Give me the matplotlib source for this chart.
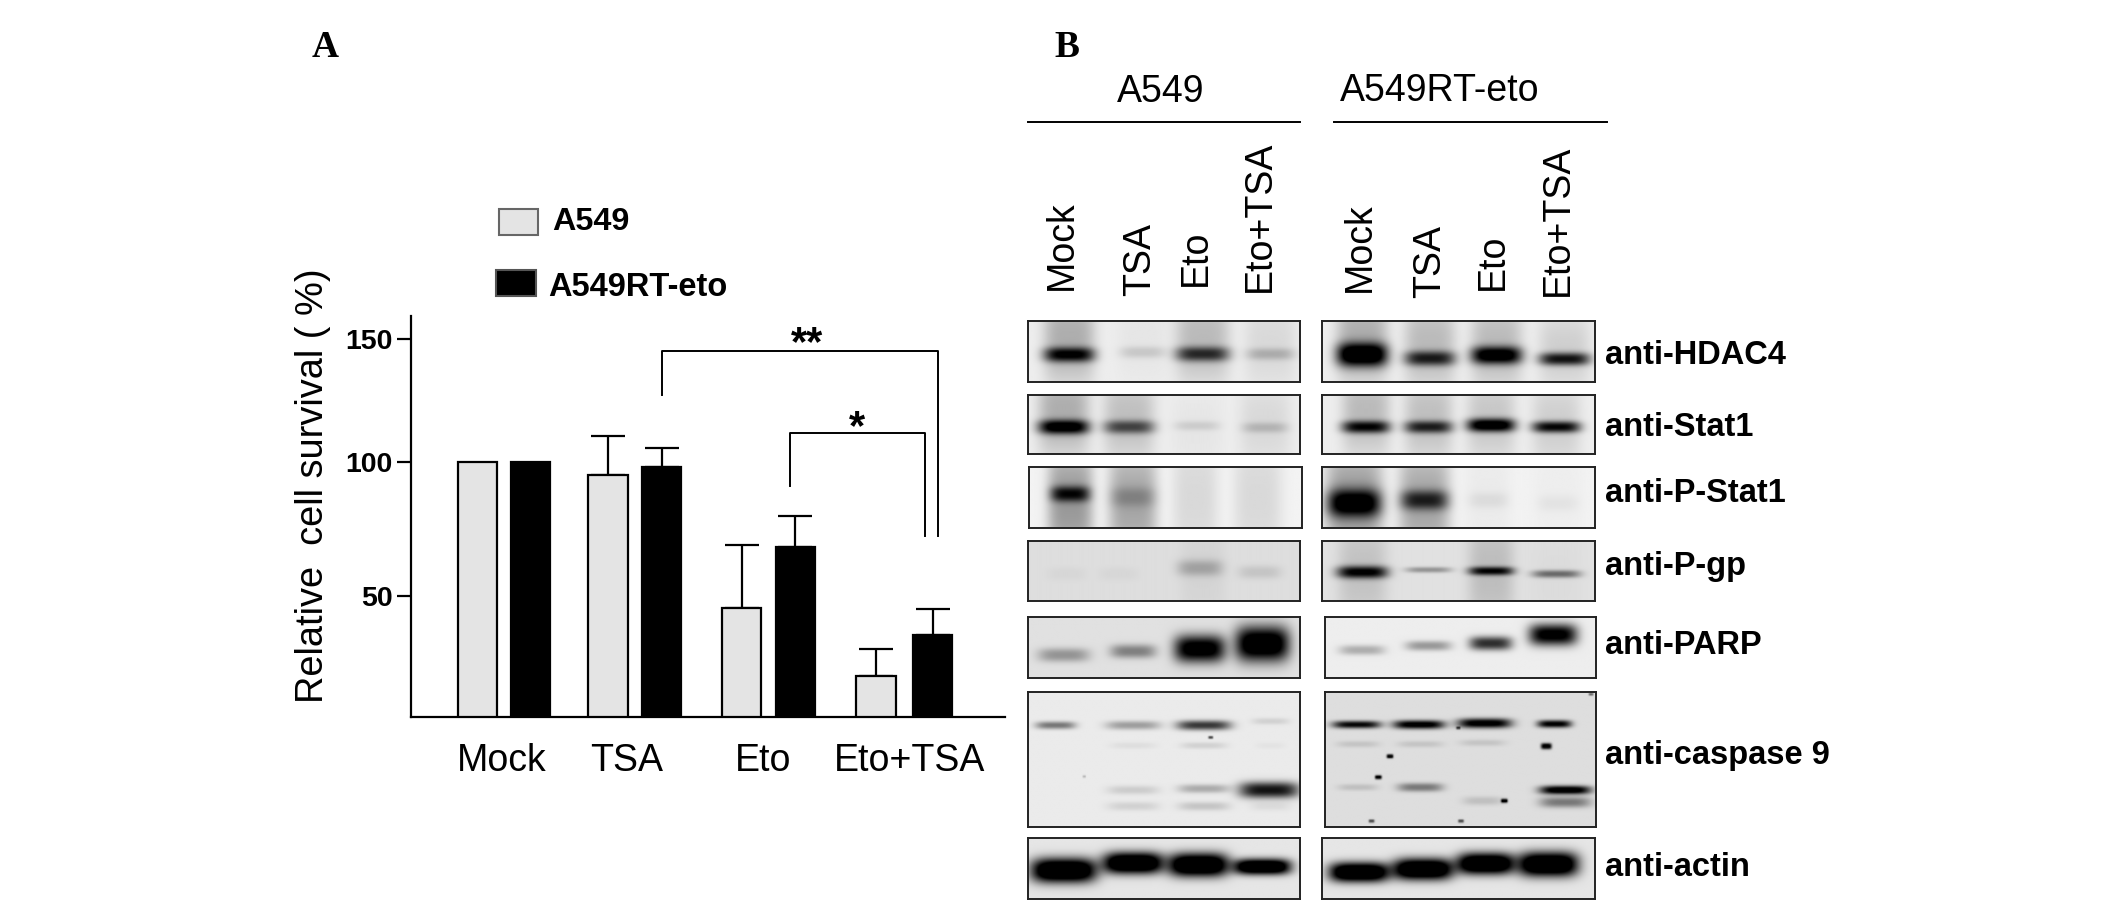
import numpy as np
import matplotlib
matplotlib.use("Agg")
import matplotlib.pyplot as plt

plt.rcParams['font.family'] = ['Liberation Sans', 'DejaVu Sans']

# ---------- data: panel A ----------
groups = ["Mock", "TSA", "Eto", "Eto+TSA"]
a549_vals = [100, 95.4, 44.9, 16.9]
a549_err_top = [100, 110.5, 69.1, 28.1]
rt_vals = [100, 98.3, 68.3, 33.7]
rt_err_top = [100, 105.8, 80.0, 44.6]
y_ticks = [50, 100, 150]

# ---------- data: panel B (band: lane x, y, width, height, darkness; in panel fractions) ----------
lanes = ["Mock", "TSA", "Eto", "Eto+TSA"]
hdac4_l = [(.15,.3,.18,.9,.25),(.42,.3,.18,.9,.03),(.64,.3,.19,.9,.2),(.89,.4,.18,.9,.08),
           (.15,.56,.18,.15,.75),(.42,.52,.16,.12,.12),(.64,.55,.19,.15,.6),(.89,.55,.17,.12,.18)]
hdac4_r = [(.146,.3,.18,.9,.25),(.395,.4,.18,.9,.2),(.64,.4,.18,.9,.2),(.89,.5,.18,.8,.12),
           (.146,.56,.18,.24,1.0),(.395,.62,.18,.15,.65),(.64,.57,.18,.18,.9),(.89,.63,.18,.13,.75)]
stat1_l = [(.13,.3,.18,.9,.25),(.37,.4,.18,.9,.18),(.62,.6,.18,.8,.03),(.87,.5,.18,.9,.08),
           (.13,.55,.18,.15,.85),(.37,.55,.18,.14,.5),(.62,.53,.16,.10,.1),(.87,.56,.16,.11,.15)]
stat1_r = [(.16,.3,.17,.9,.2),(.39,.4,.17,.9,.18),(.62,.4,.17,.9,.15),(.86,.5,.17,.9,.12),
           (.16,.55,.17,.13,.75),(.39,.55,.17,.13,.65),(.62,.52,.17,.14,.95),(.86,.55,.17,.12,.8)]
pstat1_l = [(.15,.6,.16,1.2,.35),(.38,.6,.17,1.2,.3),(.61,.5,.16,1.4,.1),(.84,.5,.17,1.4,.1),
            (.15,.45,.14,.16,.6),(.38,.5,.16,.2,.15)]
pstat1_r = [(.117,.6,.2,1.2,.35),(.375,.6,.18,1.2,.3),(.61,.5,.16,1.2,.03),(.865,.5,.18,1.2,.02),
            (.117,.6,.19,.28,.8),(.375,.55,.17,.2,.55),(.61,.55,.14,.16,.06),(.865,.6,.14,.16,.04)]
pgp_l = [(.14,.55,.14,.14,.03),(.33,.55,.14,.14,.03),(.63,.45,.16,.17,.2),(.85,.52,.15,.14,.1),
         (.64,.5,.16,1.2,.04)]
pgp_r = [(.147,.5,.17,1.1,.12),(.62,.5,.16,1.2,.14),(.86,.6,.17,.9,.02),
         (.147,.52,.18,.13,.8),(.39,.48,.16,.06,.3),(.62,.5,.16,.09,.75),(.86,.55,.17,.08,.45)]
parp_l = [(.13,.63,.18,.14,.3),(.385,.57,.16,.14,.38),(.63,.53,.18,.28,1.0),(.86,.45,.19,.36,1.1)]
parp_r = [(.135,.55,.16,.1,.25),(.38,.48,.16,.1,.33),(.61,.44,.15,.14,.75),(.84,.3,.17,.22,1.0)]
casp_l = [(.1,.25,.14,.035,.45),(.385,.25,.19,.04,.3),(.645,.25,.19,.045,.7),(.89,.22,.13,.03,.1),
          (.385,.40,.16,.03,.05),(.645,.40,.16,.03,.1),(.89,.40,.1,.03,.03),
          (.385,.73,.18,.04,.12),(.645,.72,.18,.04,.25),(.885,.73,.21,.075,.85),
          (.385,.85,.18,.04,.1),(.645,.85,.18,.04,.15),(.89,.85,.14,.04,.06),
          (.67,.34,.018,.02,.7),(.205,.63,.012,.02,.2)]
casp_r = [(.115,.245,.17,.035,.85),(.345,.245,.18,.04,.95),(.587,.235,.19,.045,.95),(.845,.24,.12,.035,.9),
          (.12,.39,.15,.03,.1),(.35,.39,.16,.03,.1),(.58,.38,.16,.03,.1),
          (.12,.71,.14,.03,.12),(.35,.71,.16,.04,.4),(.885,.73,.18,.04,1.0),
          (.58,.81,.14,.04,.12),(.885,.82,.18,.05,.4),
          (.238,.48,.025,.03,1.),(.195,.635,.025,.03,1.),(.815,.405,.04,.045,1.),(.66,.81,.025,.03,1.),
          (.17,.96,.022,.025,.6),(.5,.96,.022,.025,.6),(.49,.27,.016,.02,.6),(.98,.02,.018,.02,.5)]
actin_l = [(.13,.54,.23,.25,1.3),(.385,.42,.21,.22,1.3),(.625,.45,.21,.24,1.3),(.86,.48,.2,.16,1.3)]
actin_r = [(.135,.57,.21,.2,1.3),(.37,.52,.21,.22,1.3),(.6,.43,.2,.22,1.3),(.83,.44,.21,.25,1.3)]

blot_rows = [
    ("anti-HDAC4", hdac4_l, hdac4_r, .93, .93),
    ("anti-Stat1", stat1_l, stat1_r, .93, .93),
    ("anti-P-Stat1", pstat1_l, pstat1_r, .95, .95),
    ("anti-P-gp", pgp_l, pgp_r, .87, .88),
    ("anti-PARP", parp_l, parp_r, .88, .93),
    ("anti-caspase 9", casp_l, casp_r, .92, .87),
    ("anti-actin", actin_l, actin_r, .90, .90),
]

# ---------- layout (reference coordinates, 1568 x 671) ----------
W, H = 1568, 671
a549_bar_x = [352, 448.5, 547, 646]
rt_bar_x = [391.5, 488, 586.5, 688]
group_label_x = [370, 462, 563, 671]
bar_w = 29
row_y = [(237,282),(291,335),(344,389),(399,443),(455,500),(510,610),(618,663)]
row_label_y = [262,315,364,418,476,557,640]
left_x = [(758,959),(758,959),(759,960),(758,959),(758,959),(758,959),(758,959)]
right_x = [(975,1176),(975,1176),(975,1176),(975,1176),(977,1177),(977,1177),(975,1176)]
lane_x_l, lane_x_r = [783,841,882,929], [1003,1055,1101,1149]
lane_y_l, lane_y_r = [214,218,211,215], [215,220,214,218]

fig = plt.figure(figsize=(21.26, 9.10), dpi=100, facecolor='white')

def rect(x0, y0, x1, y1):
    return [x0/W, 1-y1/H, (x1-x0)/W, (y1-y0)/H]

# overlay in reference coordinates
ov = fig.add_axes([0, 0, 1, 1], zorder=5)
ov.set_xlim(0, W); ov.set_ylim(H, 0); ov.axis('off'); ov.patch.set_alpha(0)

# ---------- bar chart ----------
ax = fig.add_axes(rect(303, 233, 741, 528.5))
knots_v = [0, 50, 100, 150, 160]
knots_p = [0, 89, 187, 278, 296]
ax.set_yscale('function', functions=(lambda v: np.interp(v, knots_v, knots_p),
                                     lambda p: np.interp(p, knots_p, knots_v)))
ax.set_xlim(303, 741); ax.set_ylim(0, 159.3)
light, dark = '#e4e4e4', '#000000'
ax.bar(a549_bar_x, a549_vals, bar_w, color=light, edgecolor='black', linewidth=1.6, zorder=3)
ax.bar(rt_bar_x, rt_vals, bar_w, color=dark, edgecolor='black', linewidth=1.6, zorder=3)
for xs, v, e in ((a549_bar_x, a549_vals, a549_err_top), (rt_bar_x, rt_vals, rt_err_top)):
    for x, a, b in list(zip(xs, v, e))[1:]:
        ax.errorbar(x, a, yerr=[[0], [b-a]], color='black', lw=1.6, capsize=12, capthick=1.6, zorder=2)
for s in ('top', 'right'):
    ax.spines[s].set_visible(False)
for s in ('left', 'bottom'):
    ax.spines[s].set_linewidth(1.6)
ax.set_xticks([])
ax.set_yticks(y_ticks)
ax.set_yticklabels([str(t) for t in y_ticks], fontweight='bold', fontsize=20.5)
ax.tick_params(axis='y', length=10, width=1.6, pad=3)
ax.minorticks_off()
ax.patch.set_alpha(0)

for x, g in zip(group_label_x, groups):
    ov.text(x, 561, g, ha='center', va='center', fontsize=27)
ov.text(231, 358, "Relative  cell survival ( %)", rotation=90, ha='center', va='center', fontsize=27.4)

# legend
ov.add_patch(plt.Rectangle((368, 154), 29, 19, fc=light, ec='#666666', lw=1.5))
ov.add_patch(plt.Rectangle((366, 199), 29, 19, fc='black', ec='#555555', lw=1.5))
ov.text(407, 164, "A549", fontweight='bold', fontsize=23.3, va='center')
ov.text(404, 212, "A549RT-eto", fontweight='bold', fontsize=23.5, va='center')

# significance brackets
ov.plot([488, 488, 692, 692], [291, 259, 259, 395], color='black', lw=1.4)
ov.plot([583, 583, 682, 682], [358, 319, 319, 395], color='black', lw=1.4)
ov.text(595, 254, "**", fontweight='bold', fontsize=30, ha='center', va='center')
ov.text(632, 316, "*", fontweight='bold', fontsize=30, ha='center', va='center')

# panel letters
for x, t in ((240, "A"), (787, "B")):
    ov.text(x, 35, t, family=['Liberation Serif'], fontweight='bold', fontsize=27, ha='center', va='center')

# ---------- blots header ----------
ov.text(856, 68, "A549", fontsize=27, ha='center', va='center')
ov.text(1062, 67, "A549RT-eto", fontsize=27, ha='center', va='center')
ov.plot([758, 959], [90, 90], color='black', lw=1.4)
ov.plot([984, 1185], [90, 90], color='black', lw=1.4)
for xs, ys in ((lane_x_l, lane_y_l), (lane_x_r, lane_y_r)):
    for x, y, t in zip(xs, ys, lanes):
        ov.text(x, y, t, rotation=90, ha='left', va='center', fontsize=27, rotation_mode='anchor')

# ---------- blots ----------
def blot(bands, bg, ny=120, nx=260):
    yy, xx = np.mgrid[0:1:ny*1j, 0:1:nx*1j]
    im = np.full_like(xx, bg)
    for cx, cy, w, h, d in bands:
        if w > .05:            # bands, not specks: real bands are thicker and softer
            h = h * 1.6
            w = w * 1.05
        im -= d * np.exp(-np.abs((xx-cx)/(w/2))**4 - np.abs((yy-cy)/(h/2))**2.4)
    return np.clip(im, 0, 1)

def panel(box, ys, bands, bg):
    a = fig.add_axes(rect(box[0], ys[0], box[1], ys[1]))
    a.imshow(blot(bands, bg), cmap='gray', vmin=0, vmax=1, aspect='auto', interpolation='bilinear')
    a.set_xticks([]); a.set_yticks([])
    for s in a.spines.values():
        s.set_linewidth(1.4); s.set_color('#222222')

for (name, bl, br, bgl, bgr), ys, lx, rx, ly in zip(blot_rows, row_y, left_x, right_x, row_label_y):
    panel(lx, ys, bl, bgl)
    panel(rx, ys, br, bgr)
    ov.text(1184, ly, name, fontweight='bold', fontsize=23.5, va='center')

fig.savefig('out.png', dpi=100)
